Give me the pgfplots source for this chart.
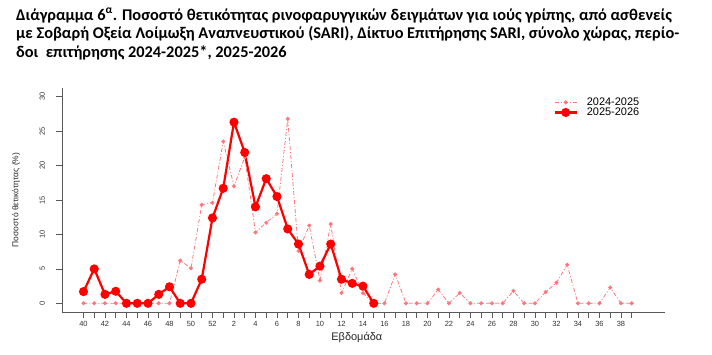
\documentclass[border=0pt]{standalone}
\usepackage{pgfplots}
\pgfplotsset{compat=1.18}
\usepackage{fontspec}
\setmainfont{Liberation Sans}
\newfontfamily\carlito{Carlito}
\definecolor{redc}{RGB}{255,0,0}
\definecolor{pinkc}{RGB}{255,118,125}
\pgfplotstableread{
idx val
0 0
1 0
2 0
3 0
4 0
5 0
6 0
7 0
8 0
9 6.2
10 5.1
11 14.3
12 14.6
13 23.5
14 17.0
15 21.2
16 10.3
17 11.7
18 13.0
19 26.8
20 7.6
21 11.3
22 3.3
23 11.5
24 1.5
25 5.0
26 1.5
27 0
28 0
29 4.2
30 0
31 0
32 0
33 2.0
34 0
35 1.5
36 0
37 0
38 0
39 0
40 1.8
41 0
42 0
43 1.65
44 3.0
45 5.6
46 0
47 0
48 0
49 2.3
50 0
51 0
}\seasonA
\pgfplotstableread{
idx val
0 1.7
1 5.0
2 1.3
3 1.75
4 0
5 0
6 0
7 1.3
8 2.4
9 0
10 0
11 3.5
12 12.4
13 16.7
14 26.3
15 21.9
16 14.0
17 18.1
18 15.5
19 10.8
20 8.6
21 4.2
22 5.4
23 8.6
24 3.5
25 2.9
26 2.5
27 0
}\seasonB
\begin{document}
\begin{tikzpicture}[x=1bp,y=1bp]
\path (0,0) rectangle (712,354);
\node[anchor=base west, inner sep=0pt, font=\carlito\bfseries\fontsize{16.4}{18.5}\selectfont] at (16,334)
{Διάγραμμα 6\textsuperscript{α}. Ποσοστό θετικότητας ρινοφαρυγγικών δειγμάτων για ιούς γρίπης, από ασθενείς};
\node[anchor=base west, inner sep=0pt, font=\carlito\bfseries\fontsize{16.4}{18.5}\selectfont] at (16,315.5)
{με Σοβαρή Οξεία Λοίμωξη Αναπνευστικού (SARI), Δίκτυο Επιτήρησης SARI, σύνολο χώρας, περίο-};
\node[anchor=base west, inner sep=0pt, font=\carlito\bfseries\fontsize{16.4}{18.5}\selectfont] at (16,297)
{δοι\ \ επιτήρησης 2024-2025*, 2025-2026};
\begin{axis}[
  at={(62bp,42bp)}, anchor=south west,
  scale only axis, width=603bp, height=224bp,
  xmin=-2.0, xmax=54.1, ymin=-1.26, ymax=31.26,
  axis x line*=bottom, axis y line*=left,
  axis line style={-, draw=black!65, line width=0.6bp},
  xtick={0,...,51},
  xticklabels={40,,42,,44,,46,,48,,50,,52,,2,,4,,6,,8,,10,,12,,14,,16,,18,,20,,22,,24,,26,,28,,30,,32,,34,,36,,38,},
  ytick={0,5,...,30},
  tick align=outside, major tick length=5.5bp,
  tick style={draw=black!65, line width=0.6bp},
  /pgf/number format/assume math mode=true,
  ticklabel style={font=\fontsize{7.5}{8}\selectfont, text=black!80},
  yticklabel style={rotate=90, anchor=south},
  yticklabel shift=8bp,
  xlabel={Εβδομάδα},
  ylabel={Ποσοστό θετικότητας (\%)},
  xlabel style={at={(axis description cs:0.489,-0.114)}, anchor=center, font=\fontsize{11}{11}\selectfont, text=black!85},
  ylabel style={at={(axis description cs:-0.0763,0.5)}, anchor=center, font=\fontsize{8.5}{9}\selectfont, text=black!85},
  legend style={at={(rel axis cs:0.81,0.975)}, anchor=north west, draw=none, fill=none, font=\fontsize{11}{10}\selectfont, row sep=-3bp},
  legend cell align=left,
  legend image code/.code={\draw[mark repeat=2,mark phase=2,#1] plot coordinates {(0bp,0bp) (11bp,0bp) (22bp,0bp)}; \path (29bp,0bp);},
  clip=false,
]
\addplot[color=pinkc, line width=0.8bp, dash pattern=on 4bp off 2bp on 1bp off 2bp, mark=*, mark size=1.6bp, mark options={solid, fill=pinkc, draw=pinkc}] table[x=idx,y=val] {\seasonA};
\addlegendentry{2024-2025}
\addplot[color=redc, line width=2.2bp, mark=*, mark size=3.4bp, mark options={solid, fill=redc, draw=redc}] table[x=idx,y=val] {\seasonB};
\addlegendentry{2025-2026}
\end{axis}
\end{tikzpicture}
\end{document}
